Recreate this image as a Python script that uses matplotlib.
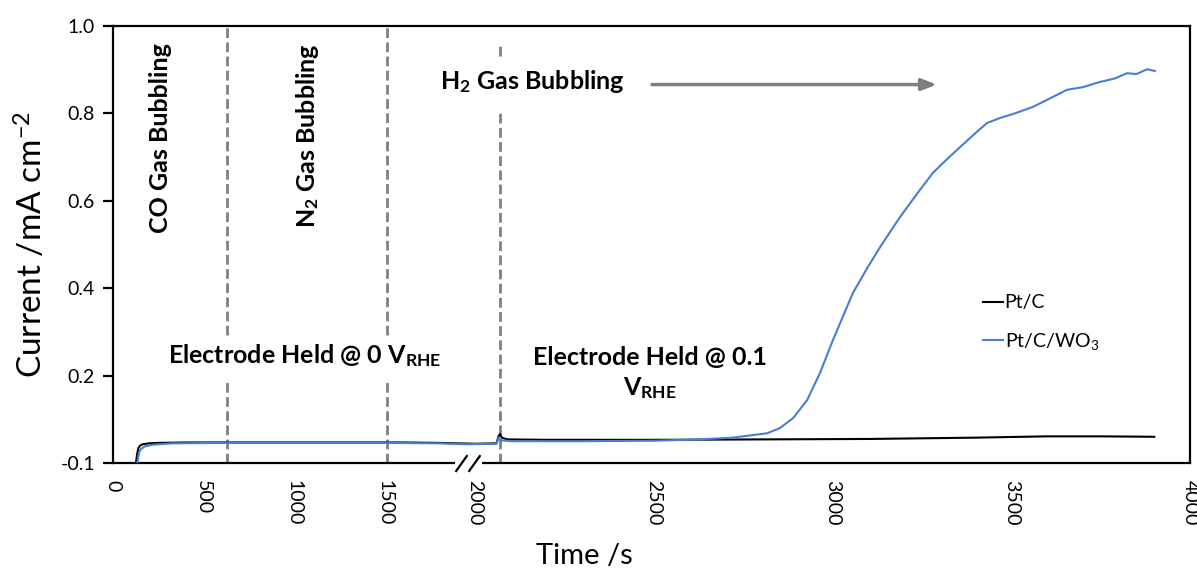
#!/usr/bin/env python3
"""Chronoamperometry: CO / N2 / H2 bubbling on Pt/C and Pt/C/WO3 (broken time axis)."""
import numpy as np
import matplotlib
matplotlib.use("Agg")
import matplotlib.pyplot as plt

plt.rcParams["font.family"] = ["Lato", "DejaVu Sans"]
plt.rcParams["mathtext.fontset"] = "custom"
plt.rcParams["mathtext.rm"] = "Lato"
plt.rcParams["mathtext.it"] = "Lato:italic"
plt.rcParams["mathtext.bf"] = "Lato:bold"

# Pt/C (black) current trace, time in s
time_ptc = [127, 133, 140, 150, 165, 200, 250, 400, 800, 1200, 1600, 1800, 1900, 2000,
            2060, 2066, 2070, 2075, 2090, 2200, 2500, 2800, 3100, 3400, 3600, 3750, 3900]
curr_ptc = [0.0, 0.020, 0.034, 0.040, 0.043, 0.045, 0.046, 0.047, 0.047, 0.047, 0.047, 0.046,
            0.045, 0.044, 0.045, 0.062, 0.066, 0.058, 0.054, 0.053, 0.053, 0.054, 0.055, 0.058,
            0.061, 0.061, 0.060]

# Pt/C/WO3 (blue) current trace
time_wo3 = [135, 140, 145, 155, 175, 220, 330, 600, 1000, 1500, 1800, 1950, 2060, 2066, 2072,
            2100, 2300, 2500, 2629, 2720, 2817, 2853, 2890, 2929, 2965, 3001, 3057, 3100, 3133,
            3189, 3240, 3281, 3320, 3357, 3400, 3432, 3470, 3510, 3561, 3610, 3656, 3700, 3748,
            3790, 3824, 3850, 3880, 3902]
curr_wo3 = [0.0, 0.015, 0.025, 0.032, 0.038, 0.042, 0.045, 0.046, 0.046, 0.046, 0.045, 0.043,
            0.044, 0.058, 0.052, 0.050, 0.050, 0.051, 0.054, 0.058, 0.068, 0.080, 0.103, 0.144,
            0.206, 0.281, 0.389, 0.450, 0.494, 0.563, 0.620, 0.664, 0.695, 0.723, 0.755, 0.778,
            0.790, 0.800, 0.815, 0.835, 0.854, 0.860, 0.872, 0.880, 0.892, 0.890, 0.901, 0.897]

# gas switch times (s) and axis labelling
switch_times = [630, 1514, 2070]
x_ticks = [0, 500, 1000, 1500, 2000, 2500, 3000, 3500, 4000]
y_ticks = [0.0, 0.2, 0.4, 0.6, 0.8, 1.0]
y_tick_labels = ["-0.1", "0.2", "0.4", "0.6", "0.8", "1.0"]

# time axis is broken at 2000 s; the part after the break is stretched
T_BREAK = 2000.0
STRETCH = 1.975


def fwd(t):
    t = np.asarray(t, dtype=float)
    return np.where(t <= T_BREAK, t, T_BREAK + (t - T_BREAK) * STRETCH)


def inv(u):
    u = np.asarray(u, dtype=float)
    return np.where(u <= T_BREAK, u, T_BREAK + (u - T_BREAK) / STRETCH)


GREY = "#808080"
BLUE = "#4a7bd8"
DASH = (0, (3.5, 1.6))

fig = plt.figure(figsize=(11.97, 5.72), dpi=100)
ax = fig.add_axes([113 / 1197, 1 - 463 / 572, (1190 - 113) / 1197, (463 - 26) / 572])
ax.set_xscale("function", functions=(fwd, inv))
ax.set_xlim(0, 4000)
ax.set_ylim(0, 1.0)

# dashed switch lines, interrupted where the labels sit
for t in switch_times[:2]:
    ax.axvline(t, 0, 0.192, color=GREY, lw=2, ls=DASH, zorder=1)
    ax.axvline(t, 0.293, 1, color=GREY, lw=2, ls=DASH, zorder=1)
ax.axvline(switch_times[2], 0, 0.807, color=GREY, lw=2, ls=DASH, zorder=1)
ax.axvline(switch_times[2], 0.931, 0.961, color=GREY, lw=2, ls=DASH, zorder=1)

ax.plot(time_ptc, curr_ptc, color="black", lw=1.5, label="Pt/C", zorder=3)
ax.plot(time_wo3, curr_wo3, color=BLUE, lw=1.5, label="Pt/C/WO$_3$", zorder=4)

# axis styling
for s in ax.spines.values():
    s.set_linewidth(1.6)
ax.set_yticks(y_ticks)
ax.set_yticklabels(y_tick_labels)
ax.set_xticks(x_ticks)
ax.set_xticklabels([str(v) for v in x_ticks], rotation=-90)
ax.xaxis.set_minor_locator(matplotlib.ticker.NullLocator())
ax.tick_params(axis="y", direction="out", length=7, width=1.6, labelsize=14, pad=6)
ax.tick_params(axis="x", length=0, labelsize=14, pad=12)
ax.set_ylabel("Current /mA cm$^{-2}$", fontsize=24, labelpad=8)
ax.set_xlabel("Time /s", fontsize=21)
ax.xaxis.set_label_coords(0.438, -0.183)

# axis break marks
xt = ax.get_xaxis_transform()
ax.plot([1890, 2020], [0, 0], transform=xt, color="white", lw=4,
        solid_capstyle="butt", clip_on=False, zorder=6)
ax.plot([1925, 1997], [0, 0], transform=xt, ls="none", marker=[(-1, -1.4), (1, 1.4)],
        ms=12, mfc="none", mec="black", mew=1.6, clip_on=False, zorder=7)

# annotations
bold = dict(fontsize=18, fontweight="bold")
ax.text(265, 0.96, "CO Gas Bubbling", rotation=90, ha="center", va="top", **bold)
ax.text(1077, 0.96, "N$_\\mathbf{2}$ Gas Bubbling", rotation=90, ha="center", va="top", **bold)
ax.text(1807, 0.872, "H$_\\mathbf{2}$ Gas Bubbling", ha="left", va="center", **bold)
ax.annotate("", xy=(3292, 0.866), xytext=(2495, 0.866),
            arrowprops=dict(arrowstyle="-|>,head_length=0.9,head_width=0.35",
                            color=GREY, lw=2.5, shrinkA=0, shrinkB=0))
ax.text(1061, 0.247, "Electrode Held @ 0 V$_\\mathbf{RHE}$", ha="center", va="center", **bold)
ax.text(2490, 0.205, "Electrode Held @ 0.1\nV$_\\mathbf{RHE}$", ha="center", va="center",
        multialignment="center", linespacing=1.3, **bold)

ax.legend(loc="center left", bbox_to_anchor=(0.808, 0.32), frameon=False, fontsize=14,
          handlelength=1.0, handletextpad=0.1, labelspacing=1.0, borderpad=0, borderaxespad=0)

fig.savefig("out.png", dpi=100)
